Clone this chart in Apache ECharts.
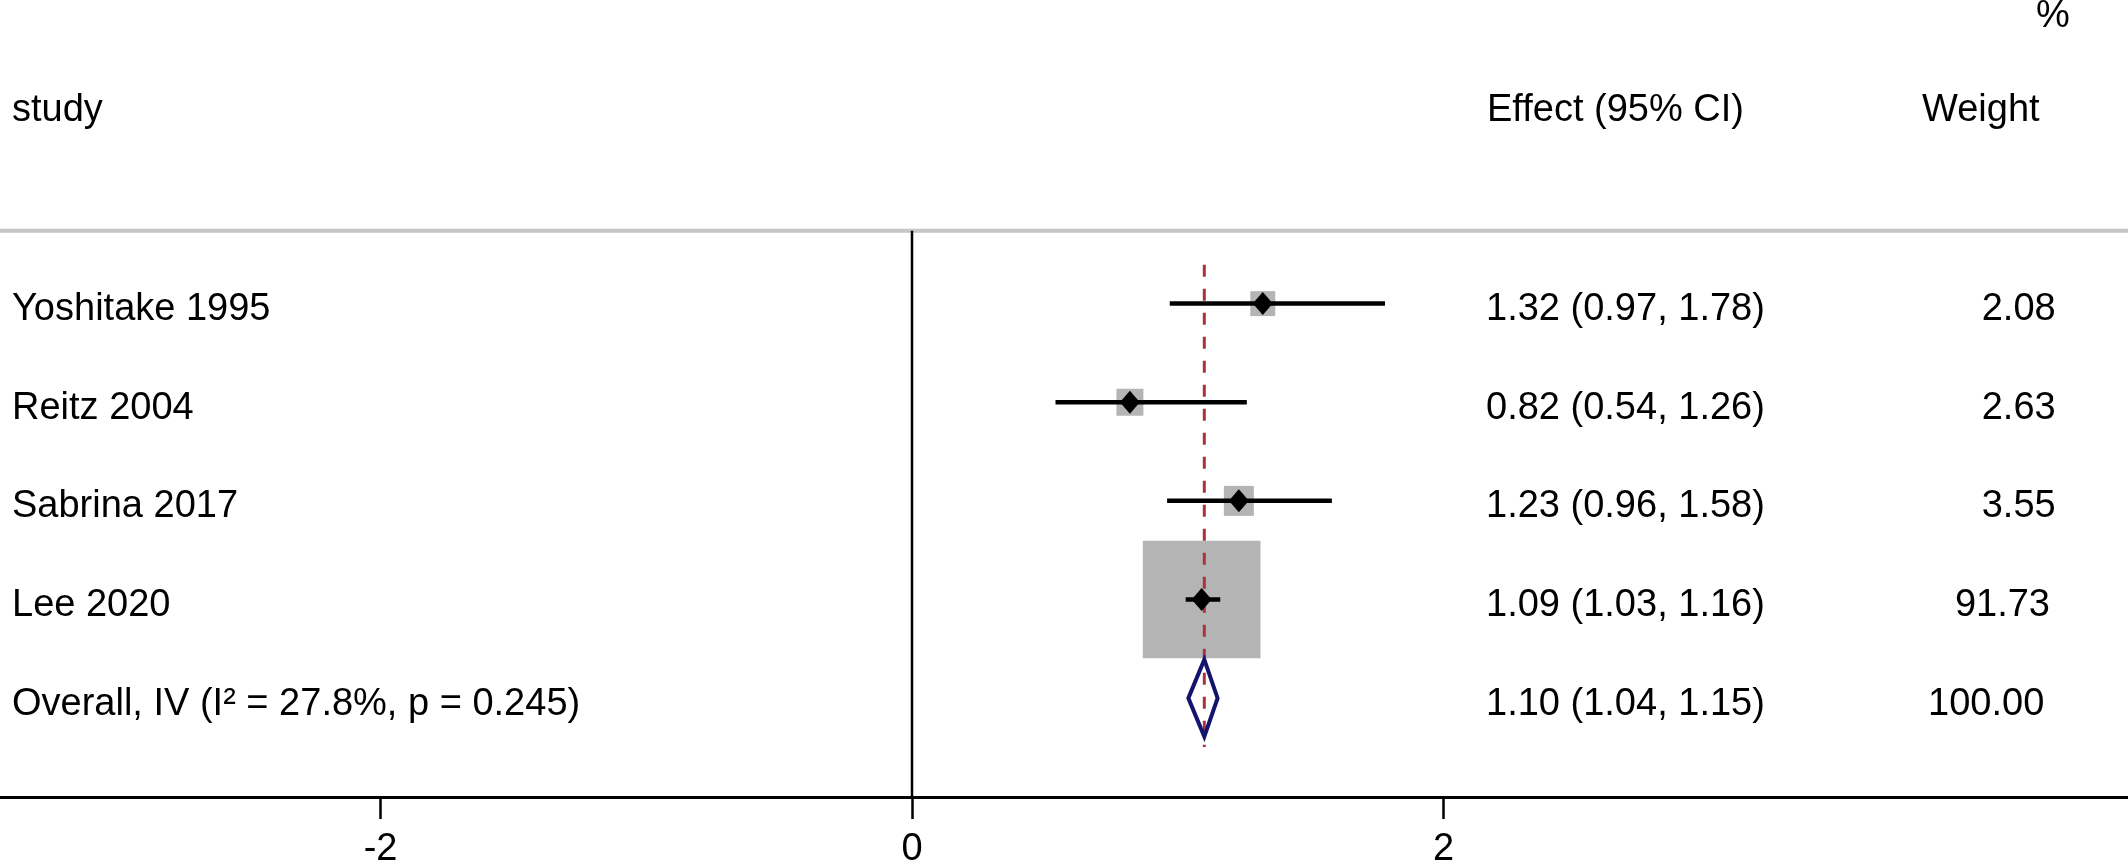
<!DOCTYPE html>
<html>
<head>
<meta charset="utf-8">
<script src="https://cdn.jsdelivr.net/npm/echarts@6/dist/echarts.min.js"></script>
<style>
html,body{margin:0;padding:0;background:#fff;}
#chart{width:2128px;height:866px;}
</style>
</head>
<body>
<div id="chart"></div>
<script>
// ---- data ----
const studies = ['Yoshitake 1995', 'Reitz 2004', 'Sabrina 2017', 'Lee 2020'];
const effects = [1.32, 0.82, 1.23, 1.09];
const ciLow = [0.97, 0.54, 0.96, 1.03];
const ciHigh = [1.78, 1.26, 1.58, 1.16];
const weights = [2.08, 2.63, 3.55, 91.73];
const overallLabel = 'Overall, IV (I\u00B2 = 27.8%, p = 0.245)';
const overallEffect = 1.10;
const overallLow = 1.04;
const overallHigh = 1.15;
const overallWeight = 100.00;
const xTicks = [-2, 0, 2];
const headers = ['study', 'Effect (95% CI)', 'Weight', '%'];

// ---- layout ----
const FONT = '38px "Liberation Sans", Helvetica, Arial, sans-serif';
const overallRow = studies.length + 1;
const Y_MIN = -2.0785, Y_MAX = 6.0025;
const SEP_Y = 0.2608;
const TEXT_DY = 6;
const fmt = v => v.toFixed(2);

const ciData = studies.map((s, i) => [ciLow[i], ciHigh[i], i + 1]);
const boxData = studies.map((s, i) => [effects[i], i + 1, weights[i]]);
const pointData = studies.map((s, i) => [effects[i], i + 1]);

const textRows = studies.map((s, i) => ({
  row: i + 1,
  study: s,
  eff: fmt(effects[i]) + ' (' + fmt(ciLow[i]) + ', ' + fmt(ciHigh[i]) + ')',
  w: fmt(weights[i])
}));
textRows.push({
  row: overallRow,
  study: overallLabel,
  eff: fmt(overallEffect) + ' (' + fmt(overallLow) + ', ' + fmt(overallHigh) + ')',
  w: fmt(overallWeight)
});

const chart = echarts.init(document.getElementById('chart'), null, {renderer: 'canvas'});

const option = {
  animation: false,
  backgroundColor: '#fff',
  grid: {left: 0, right: 0, top: 0, bottom: 69, containLabel: false, outerBoundsMode: 'none'},
  xAxis: {
    type: 'value',
    min: -3.432,
    max: 4.576,
    splitLine: {show: false},
    axisLine: {show: true, onZero: false, lineStyle: {color: '#000', width: 3}},
    axisTick: {show: true, customValues: xTicks, length: 22, lineStyle: {color: '#000', width: 2.5}},
    axisLabel: {show: true, customValues: xTicks, margin: 34, color: '#000',
      fontSize: 38, lineHeight: 38, fontFamily: '"Liberation Sans", Helvetica, Arial, sans-serif'}
  },
  yAxis: {
    type: 'value', inverse: true, min: Y_MIN, max: Y_MAX, show: false
  },
  series: [
    { // separator + vertical zero line
      type: 'custom',
      z: 1,
      data: [[0]],
      renderItem: function (params, api) {
        const a = api.coord([-3.432, SEP_Y]);
        const b = api.coord([4.576, SEP_Y]);
        const z0 = api.coord([0, SEP_Y]);
        const z1 = api.coord([0, Y_MAX]);
        return {type: 'group', children: [
          {type: 'line', shape: {x1: a[0], y1: a[1], x2: b[0], y2: b[1]}, style: {stroke: '#c6c6c6', lineWidth: 4}},
          {type: 'line', shape: {x1: z0[0], y1: z0[1], x2: z1[0], y2: z1[1]}, style: {stroke: '#000', lineWidth: 2.5}}
        ]};
      }
    },
    { // weight boxes
      type: 'scatter',
      z: 2,
      symbol: 'rect',
      data: boxData,
      symbolSize: v => 8.5 + 11.4 * Math.sqrt(v[2]),
      itemStyle: {color: '#b4b4b4', opacity: 1},
      silent: true
    },
    { // reference (overall effect) dashed line
      type: 'custom',
      z: 3,
      data: [[overallEffect, 0.605, 5.496]],
      renderItem: function (params, api) {
        const p1 = api.coord([api.value(0), api.value(1)]);
        const p2 = api.coord([api.value(0), api.value(2)]);
        return {type: 'line', shape: {x1: p1[0], y1: p1[1], x2: p2[0], y2: p2[1]},
          style: {stroke: '#ab323d', lineWidth: 3, lineDash: [12, 12]}};
      }
    },
    { // CI lines
      type: 'custom',
      z: 4,
      data: ciData,
      encode: {x: [0, 1], y: 2},
      renderItem: function (params, api) {
        const s = api.coord([api.value(0), api.value(2)]);
        const e = api.coord([api.value(1), api.value(2)]);
        return {type: 'line', shape: {x1: s[0], y1: s[1], x2: e[0], y2: e[1]},
          style: {stroke: '#000', lineWidth: 4.5}};
      }
    },
    { // point estimates
      type: 'scatter',
      z: 5,
      symbol: 'diamond',
      symbolSize: [20, 23],
      data: pointData,
      itemStyle: {color: '#000', opacity: 1},
      silent: true
    },
    { // overall diamond
      type: 'custom',
      z: 6,
      data: [[overallLow, overallEffect, overallHigh, overallRow]],
      renderItem: function (params, api) {
        const r = api.value(3);
        const pL = api.coord([api.value(0), r]);
        const pT = api.coord([api.value(1), r - 0.39]);
        const pR = api.coord([api.value(2), r]);
        const pB = api.coord([api.value(1), r + 0.39]);
        return {type: 'polygon', shape: {points: [pL, pT, pR, pB]},
          style: {fill: 'none', stroke: '#14146e', lineWidth: 4, lineJoin: 'miter'}};
      }
    },
    { // text columns
      type: 'custom',
      z: 7,
      data: textRows.map(t => [0, t.row]),
      renderItem: function (params, api) {
        const t = textRows[params.dataIndex];
        const y = api.coord([0, t.row])[1] + TEXT_DY;
        const wx = 2078.5 - 5.7 * t.w.length;
        return {type: 'group', children: [
          {type: 'text', x: 12, y: y, style: {text: t.study, font: FONT, fill: '#000', align: 'left', verticalAlign: 'middle'}},
          {type: 'text', x: 1486, y: y, style: {text: t.eff, font: FONT, fill: '#000', align: 'left', verticalAlign: 'middle'}},
          {type: 'text', x: wx, y: y, style: {text: t.w, font: FONT, fill: '#000', align: 'right', verticalAlign: 'middle'}}
        ]};
      }
    }
  ],
  graphic: [
    {type: 'text', x: 12, y: 111, style: {text: headers[0], font: FONT, fill: '#000', align: 'left', verticalAlign: 'middle'}},
    {type: 'text', x: 1487, y: 111, style: {text: headers[1], font: FONT, fill: '#000', align: 'left', verticalAlign: 'middle'}},
    {type: 'text', x: 1922, y: 111, style: {text: headers[2], font: FONT, fill: '#000', align: 'left', verticalAlign: 'middle'}},
    {type: 'text', x: 2036, y: 17, style: {text: headers[3], font: FONT, fill: '#000', align: 'left', verticalAlign: 'middle'}}
  ]
};
chart.setOption(option);
</script>
</body>
</html>
